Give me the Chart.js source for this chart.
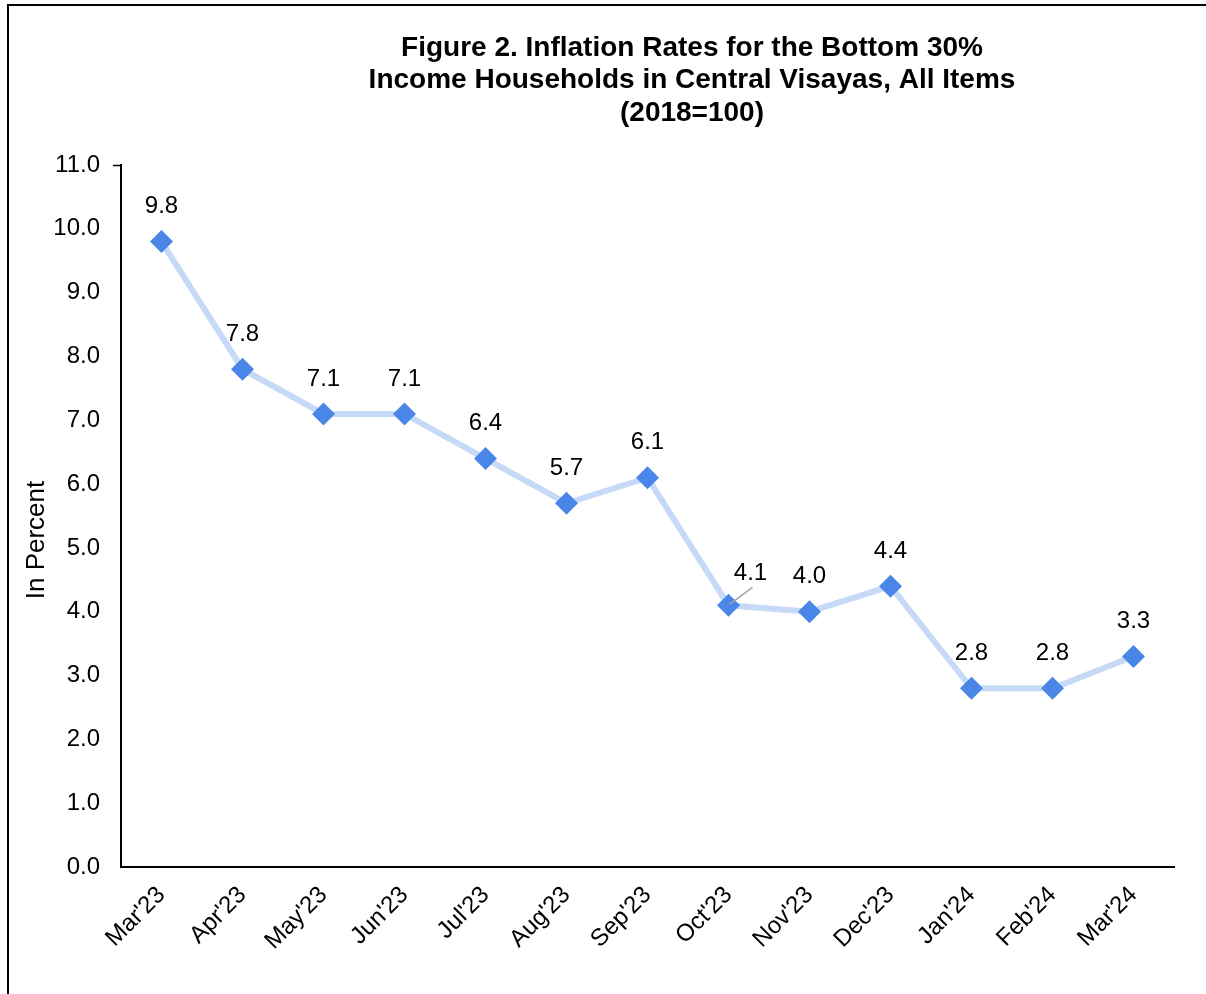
<!DOCTYPE html>
<html>
<head>
<meta charset="utf-8">
<title>Figure 2</title>
<script src="https://cdn.jsdelivr.net/npm/chart.js@4/dist/chart.umd.min.js"></script>
<style>
    body { margin: 0; background: #fff; overflow: hidden; }
    #wrap { position: relative; width: 1206px; height: 994px; }
    #frame {
        position: absolute; left: 7px; top: 4px;
        width: 1260px; height: 1060px;
        border: 2px solid #000; pointer-events: none;
    }
</style>
</head>
<body>
<div id="wrap">
    <canvas id="chart" width="1206" height="994"></canvas>
    <div id="frame"></div>
</div>
<script>
// Chart data
const months = ["Mar'23", "Apr'23", "May'23", "Jun'23", "Jul'23", "Aug'23", "Sep'23",
                "Oct'23", "Nov'23", "Dec'23", "Jan'24", "Feb'24", "Mar'24"];
const inflation = [9.8, 7.8, 7.1, 7.1, 6.4, 5.7, 6.1, 4.1, 4.0, 4.4, 2.8, 2.8, 3.3];
const titleLines = ['Figure 2. Inflation Rates for the Bottom 30%',
                    'Income Households in Central Visayas, All Items',
                    '(2018=100)'];
const yAxisTitle = 'In Percent';
const yMin = 0;
const yMax = 11;

const FONT = "Arial, 'Liberation Sans', sans-serif";

// Title and axis title drawn by hand (Excel puts them off centre)
const titlePlugin = {
    id: 'titles',
    afterDraw(chart) {
        const ctx = chart.ctx;
        ctx.save();
        ctx.fillStyle = '#000';
        ctx.textAlign = 'center';
        ctx.textBaseline = 'middle';
        ctx.font = 'bold 28px ' + FONT;
        titleLines.forEach((line, i) => {
            ctx.fillText(line, 692, 48 + i * 32.5);
        });
        ctx.font = '26px ' + FONT;
        ctx.translate(37, 540);
        ctx.rotate(-Math.PI / 2);
        ctx.fillText(yAxisTitle, 0, 0);
        ctx.restore();
    }
};

// Value labels above each marker
const valueLabels = {
    id: 'valueLabels',
    afterDatasetsDraw(chart, args, opts) {
        const ctx = chart.ctx;
        const meta = chart.getDatasetMeta(0);
        ctx.save();
        ctx.font = '24px ' + FONT;
        ctx.fillStyle = '#000';
        ctx.textAlign = 'center';
        ctx.textBaseline = 'middle';
        meta.data.forEach((pt, i) => {
            const shift = opts.shifted[i];
            const text = inflation[i].toFixed(1);
            if (shift) {
                ctx.strokeStyle = '#a6a6a6';
                ctx.lineWidth = 1.5;
                ctx.beginPath();
                ctx.moveTo(pt.x + 1, pt.y - 1);
                ctx.lineTo(pt.x + shift[0] + 2, pt.y + shift[1] + 14);
                ctx.stroke();
                ctx.fillText(text, pt.x + shift[0], pt.y + shift[1]);
            } else {
                ctx.fillText(text, pt.x, pt.y - 35);
            }
        });
        ctx.restore();
    }
};

new Chart(document.getElementById('chart'), {
    type: 'line',
    data: {
        labels: months,
        datasets: [{
            data: inflation,
            borderColor: '#c6d9f6',
            borderWidth: 6,
            tension: 0,
            pointStyle: 'rectRot',
            pointRadius: 11.5,
            pointHoverRadius: 11.5,
            pointBackgroundColor: '#4a86e8',
            pointBorderWidth: 0,
            clip: false
        }]
    },
    options: {
        responsive: false,
        animation: false,
        devicePixelRatio: 1,
        layout: { padding: { top: 165, right: 32, left: 0, bottom: 0 } },
        plugins: {
            legend: { display: false },
            title: { display: false },
            tooltip: { enabled: false },
            valueLabels: { shifted: { 7: [22, -32] } }
        },
        scales: {
            x: {
                offset: true,
                afterFit(scale) { scale.height = 127; },
                grid: { display: false, drawTicks: false },
                border: { display: true, color: '#000', width: 2 },
                ticks: {
                    color: '#000',
                    font: { family: FONT, size: 24 },
                    maxRotation: 45,
                    minRotation: 45,
                    padding: 14
                }
            },
            y: {
                min: yMin,
                max: yMax,
                afterFit(scale) { scale.width = 121; },
                grid: {
                    drawOnChartArea: false,
                    tickLength: 8,
                    tickWidth: 1.5,
                    tickColor: (c) => c.tick && c.tick.value === yMax ? '#000' : 'rgba(0,0,0,0)'
                },
                border: { display: true, color: '#000', width: 2 },
                ticks: {
                    stepSize: 1,
                    color: '#000',
                    padding: 13,
                    font: { family: FONT, size: 24 },
                    callback: (v) => Number(v).toFixed(1)
                }
            }
        }
    },
    plugins: [titlePlugin, valueLabels]
});
</script>
</body>
</html>
